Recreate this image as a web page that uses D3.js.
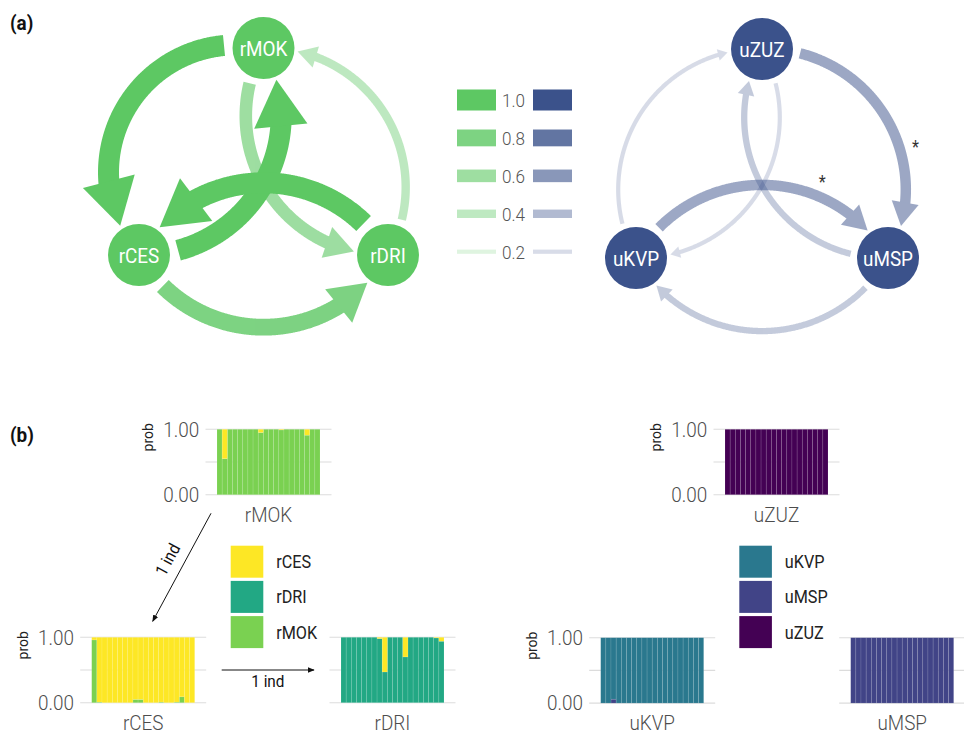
<!DOCTYPE html>
<html>
<head>
<meta charset="utf-8">
<script src="https://cdn.jsdelivr.net/npm/d3@7"></script>
<style>
  body { margin: 0; background: #fff; }
  svg { display: block; }
  text { font-family: "Roboto", "Liberation Sans", sans-serif; }
</style>
</head>
<body>
<svg id="chart" width="964" height="735"></svg>
<script>
// ---------------- data: migration networks ----------------
const redNodes = ["rMOK", "rCES", "rDRI"];
const redEdgeFrom   = ["rMOK", "rCES", "rDRI", "rCES", "rDRI", "rMOK"];
const redEdgeTo     = ["rCES", "rDRI", "rMOK", "rMOK", "rCES", "rDRI"];
const redEdgeWeight = [1.0, 0.8, 0.4, 1.0, 1.0, 0.6];
const redEdgeSignif = [false, false, false, false, false, false];

const ulvNodes = ["uZUZ", "uKVP", "uMSP"];
const ulvEdgeFrom   = ["uZUZ", "uMSP", "uKVP", "uKVP", "uMSP", "uZUZ"];
const ulvEdgeTo     = ["uMSP", "uKVP", "uZUZ", "uMSP", "uZUZ", "uKVP"];
const ulvEdgeWeight = [0.5, 0.3, 0.2, 0.5, 0.3, 0.2];
const ulvEdgeSignif = [true, false, false, true, false, false];

const legendWeights = [1.0, 0.8, 0.6, 0.4, 0.2];

// ---------------- data: assignment probabilities (20 individuals each) ----------------
const redClusters = ["rCES", "rDRI", "rMOK"];
const ulvClusters = ["uKVP", "uMSP", "uZUZ"];

const rMOK_rCES = [0, 0.45, 0, 0, 0, 0, 0, 0, 0.05, 0, 0, 0, 0.01, 0, 0, 0, 0, 0.09, 0, 0];
const rMOK_rDRI = [0, 0, 0, 0, 0, 0, 0, 0, 0, 0, 0, 0, 0, 0, 0, 0, 0, 0, 0, 0];
const rMOK_rMOK = [1, 0.55, 1, 1, 1, 1, 1, 1, 0.95, 1, 1, 1, 0.99, 1, 1, 1, 1, 0.91, 1, 1];

const rCES_rCES = [0.04, 0.99, 1, 1, 1, 1, 1, 1, 0.95, 0.95, 1, 1, 1, 0.99, 1, 1, 0.99, 0.91, 1, 1];
const rCES_rDRI = [0, 0, 0, 0, 0, 0, 0, 0, 0, 0, 0, 0, 0, 0, 0, 0, 0, 0, 0, 0];
const rCES_rMOK = [0.96, 0.01, 0, 0, 0, 0, 0, 0, 0.05, 0.05, 0, 0, 0, 0.01, 0, 0, 0.01, 0.09, 0, 0];

const rDRI_rCES = [0, 0, 0, 0, 0, 0, 0, 0.02, 0.53, 0, 0, 0, 0.30, 0, 0, 0, 0, 0, 0.01, 0.06];
const rDRI_rDRI = [1, 1, 1, 1, 1, 1, 1, 0.98, 0.47, 1, 1, 1, 0.70, 1, 1, 1, 1, 1, 0.99, 0.94];
const rDRI_rMOK = [0, 0, 0, 0, 0, 0, 0, 0, 0, 0, 0, 0, 0, 0, 0, 0, 0, 0, 0, 0];

const uZUZ_uKVP = [0, 0, 0, 0, 0, 0, 0, 0, 0, 0, 0, 0, 0, 0, 0, 0, 0, 0, 0, 0];
const uZUZ_uMSP = [0, 0, 0, 0, 0, 0, 0, 0, 0, 0, 0, 0, 0, 0, 0, 0, 0, 0, 0, 0];
const uZUZ_uZUZ = [1, 1, 1, 1, 1, 1, 1, 1, 1, 1, 1, 1, 1, 1, 1, 1, 1, 1, 1, 1];

const uKVP_uKVP = [1, 1, 0.94, 1, 1, 1, 1, 1, 1, 1, 1, 1, 1, 1, 1, 1, 1, 1, 1, 1];
const uKVP_uMSP = [0, 0, 0.06, 0, 0, 0, 0, 0, 0, 0, 0, 0, 0, 0, 0, 0, 0, 0, 0, 0];
const uKVP_uZUZ = [0, 0, 0, 0, 0, 0, 0, 0, 0, 0, 0, 0, 0, 0, 0, 0, 0, 0, 0, 0];

const uMSP_uKVP = [0, 0, 0, 0, 0, 0, 0, 0, 0, 0, 0, 0, 0, 0, 0, 0, 0, 0, 0, 0];
const uMSP_uMSP = [1, 1, 1, 1, 1, 1, 1, 1, 1, 1, 1, 1, 1, 1, 1, 1, 1, 1, 1, 1];
const uMSP_uZUZ = [0, 0, 0, 0, 0, 0, 0, 0, 0, 0, 0, 0, 0, 0, 0, 0, 0, 0, 0, 0];

const axisTicks = [0, 1];
const gridTicks = [0, 0.5, 1];

// ---------------- styles ----------------
const greenBase = "#5DC863";
const blueBase = "#3B528B";
const clusterColor = d3.scaleOrdinal()
  .domain(["uZUZ", "uMSP", "uKVP", "rDRI", "rMOK", "rCES"])
  .range(["#440154", "#414487", "#2A788E", "#22A884", "#7AD151", "#FDE725"]);
const narrow = 0.9; // horizontal squeeze for a condensed look

const svg = d3.select("#chart");

// text helper: positioned via transform so it can be condensed
function addText(parent, x, y, str, size, fill, anchor, extra, weight) {
  return parent.append("text")
    .attr("transform", `translate(${x},${y}) ${extra || ""} scale(${narrow},1)`)
    .attr("text-anchor", anchor || "start").attr("font-size", size).attr("fill", fill)
    .style("font-weight", weight || 400).text(str);
}

// panel tags
addText(svg, 10, 30, "(a)", 21, "#111", "start", "", 700);
addText(svg, 10, 442, "(b)", 21, "#111", "start", "", 700);

// ---------------- network drawing ----------------
const nodeR = 31;
const widthScale = d3.scaleLinear().domain([0, 1]).range([0, 21]);
// triangle layout in unit coordinates
const triangle = [[0, 0], [-1, 1], [1, 1]];

function arcPoints(S, T, k, n) {
  const dx = T[0] - S[0], dy = T[1] - S[1], c = Math.hypot(dx, dy);
  const ux = dx / c, uy = dy / c, nx = -uy, ny = ux;
  const s = k * c;
  const R = (c * c / 4 + s * s) / (2 * Math.abs(s));
  const mx = (S[0] + T[0]) / 2, my = (S[1] + T[1]) / 2;
  const sg = Math.sign(s);
  const ox = mx + nx * (s - sg * R), oy = my + ny * (s - sg * R);
  const a0 = Math.atan2(S[1] - oy, S[0] - ox), a1 = Math.atan2(T[1] - oy, T[0] - ox);
  let da = a1 - a0;
  while (da > Math.PI) da -= 2 * Math.PI;
  while (da < -Math.PI) da += 2 * Math.PI;
  return { center: [ox, oy], pts: d3.range(n + 1).map(i => {
    const a = a0 + da * i / n;
    return [ox + R * Math.cos(a), oy + R * Math.sin(a)];
  }) };
}
const dist = (p, q) => Math.hypot(p[0] - q[0], p[1] - q[1]);

function drawNetwork(opt) {
  const xs = d3.scaleLinear().domain([-1, 1]).range(opt.xRange);
  const ys = d3.scaleLinear().domain([0, 1]).range(opt.yRange);
  const pos = {};
  opt.nodes.forEach((nm, i) => { pos[nm] = [xs(triangle[i][0]), ys(triangle[i][1])]; });

  const edges = opt.from.map((f, i) => {
    const key = f + ">" + opt.to[i];
    return {
      from: f, to: opt.to[i], w: opt.weight[i], sig: opt.signif[i],
      curve: (opt.curveOverride[key] || opt.curve),
      labelAt: (opt.labelAt[key] || 0.68)
    };
  }).sort((a, b) => a.w - b.w);

  const g = svg.append("g");
  const line = d3.line();
  edges.forEach(e => {
    const S = pos[e.from], T = pos[e.to];
    const sw = widthScale(e.w);
    const headL = 2.1 * sw + 1, headW = 2.5 * sw + 1;
    const arc = arcPoints(S, T, e.curve, 400);
    const pts = arc.pts;
    const gapS = 5 + sw * 0.15, gapT = 4;
    const i0 = pts.findIndex(p => dist(p, S) >= nodeR + gapS);
    const iTip = pts.findIndex((p, i) => i > i0 && dist(p, T) <= nodeR + gapT);
    const iBase = pts.findIndex((p, i) => i > i0 && dist(p, T) <= nodeR + gapT + headL);
    const iJoin = pts.findIndex((p, i) => i > i0 && dist(p, T) <= nodeR + gapT + headL * 0.8);
    const tip = pts[iTip], base = pts[iBase];
    const ddx = tip[0] - base[0], ddy = tip[1] - base[1], dl = Math.hypot(ddx, ddy);
    const px = -ddy / dl, py = ddx / dl;
    const eg = g.append("g").attr("opacity", e.w);
    eg.append("path")
      .attr("d", line(pts.slice(i0, iJoin + 1)))
      .attr("fill", "none").attr("stroke", opt.color).attr("stroke-width", sw);
    eg.append("path")
      .attr("d", line([tip, [base[0] + px * headW / 2, base[1] + py * headW / 2], [base[0] - px * headW / 2, base[1] - py * headW / 2]]) + "Z")
      .attr("fill", opt.color);
    if (e.sig) {
      const p = pts[Math.round(pts.length * e.labelAt)];
      const cx = arc.center[0], cy = arc.center[1];
      const rl = Math.hypot(p[0] - cx, p[1] - cy);
      addText(g, p[0] + (p[0] - cx) / rl * 16, p[1] + (p[1] - cy) / rl * 16 + 7, "*", 18, "#333", "middle");
    }
  });

  const ng = g.selectAll("g.node").data(opt.nodes).join("g").attr("class", "node")
    .attr("transform", d => `translate(${pos[d][0]},${pos[d][1]})`);
  ng.append("circle").attr("r", nodeR).attr("fill", opt.color);
  ng.append("text").attr("text-anchor", "middle").attr("dy", "0.36em")
    .attr("transform", `scale(${narrow},1)`)
    .attr("font-size", 21).attr("fill", "#fff").text(d => d);
}

drawNetwork({
  nodes: redNodes, from: redEdgeFrom, to: redEdgeTo, weight: redEdgeWeight, signif: redEdgeSignif,
  xRange: [139, 388], yRange: [48, 255], color: greenBase, curve: 0.29,
  curveOverride: { "rMOK>rCES": 0.36 }, labelAt: {}
});
drawNetwork({
  nodes: ulvNodes, from: ulvEdgeFrom, to: ulvEdgeTo, weight: ulvEdgeWeight, signif: ulvEdgeSignif,
  xRange: [636, 888], yRange: [49, 258], color: blueBase, curve: -0.29,
  curveOverride: {}, labelAt: { "uZUZ>uMSP": 0.62, "uKVP>uMSP": 0.68 }
});

// edge-weight legend
const legY = d3.scalePoint().domain(legendWeights).range([100, 251.7]);
const leg = svg.append("g");
legendWeights.forEach(v => {
  const h = widthScale(v);
  leg.append("rect").attr("x", 457).attr("y", legY(v) - h / 2).attr("width", 39).attr("height", h)
    .attr("fill", greenBase).attr("opacity", v);
  leg.append("rect").attr("x", 533).attr("y", legY(v) - h / 2).attr("width", 39).attr("height", h)
    .attr("fill", blueBase).attr("opacity", v);
  addText(leg, 502, legY(v) + 6.8, d3.format(".1f")(v), 19, "#555", "start", "", 300);
});

// ---------------- structure bar panels ----------------
const barW = 103, barH = 65.4, gridPad = 11.5;

function drawPanel(label, series, clusters, x0, y0, withAxis) {
  const n = series[0].length;
  const x = d3.scaleBand().domain(d3.range(n)).range([x0, x0 + barW]).padding(0);
  const y = d3.scaleLinear().domain([0, 1]).range([y0 + barH, y0]);
  const g = svg.append("g");

  g.selectAll("line.grid").data(gridTicks).join("line")
    .attr("x1", x0 - gridPad).attr("x2", x0 + barW + gridPad)
    .attr("y1", d => y(d)).attr("y2", d => y(d))
    .attr("stroke", "#dcdcdc").attr("stroke-width", 1.1);

  // stack: last cluster at the bottom
  const rows = d3.range(n).map(i => {
    const o = { i };
    clusters.forEach((c, k) => { o[c] = series[k][i]; });
    return o;
  });
  const stack = d3.stack().keys(clusters.slice().reverse())(rows);
  g.selectAll("g.layer").data(stack).join("g").attr("fill", d => clusterColor(d.key))
    .selectAll("rect").data(d => d.filter(v => v[1] - v[0] > 0)).join("rect")
    .attr("x", d => x(d.data.i)).attr("width", x.bandwidth())
    .attr("y", d => y(d[1])).attr("height", d => y(d[0]) - y(d[1]))
    .attr("stroke", "rgba(255,255,255,0.18)").attr("stroke-width", 0.6);

  if (withAxis) {
    const ax = g.append("g").attr("transform", `translate(${x0 - gridPad},0)`)
      .call(d3.axisLeft(y).tickValues(axisTicks).tickFormat(d3.format(".2f")).tickSize(0).tickPadding(7));
    ax.select(".domain").remove();
    ax.selectAll("text").attr("font-size", 21).attr("fill", "#4d4d4d")
      .attr("font-family", "Roboto, sans-serif").style("font-weight", 300)
      .attr("transform", `scale(${narrow},1)`);
    addText(g, x0 - 64, y0 + 8, "prob", 15.5, "#222", "middle", "rotate(-90)");
  }
  addText(g, x0 + barW / 2, y0 + barH + 27, label, 21, "#4d4d4d", "middle", "", 300);
}

const panelPos = {
  rMOK: [217, 429.3], rCES: [91.7, 637.3], rDRI: [341, 637.3],
  uZUZ: [725, 429.3], uKVP: [600.7, 637.7], uMSP: [850.7, 637.7]
};

drawPanel("rMOK", [rMOK_rCES, rMOK_rDRI, rMOK_rMOK], redClusters, ...panelPos.rMOK, true);
drawPanel("rCES", [rCES_rCES, rCES_rDRI, rCES_rMOK], redClusters, ...panelPos.rCES, true);
drawPanel("rDRI", [rDRI_rCES, rDRI_rDRI, rDRI_rMOK], redClusters, ...panelPos.rDRI, false);
drawPanel("uZUZ", [uZUZ_uKVP, uZUZ_uMSP, uZUZ_uZUZ], ulvClusters, ...panelPos.uZUZ, true);
drawPanel("uKVP", [uKVP_uKVP, uKVP_uMSP, uKVP_uZUZ], ulvClusters, ...panelPos.uKVP, true);
drawPanel("uMSP", [uMSP_uKVP, uMSP_uMSP, uMSP_uZUZ], ulvClusters, ...panelPos.uMSP, false);

// cluster legends
function drawLegend(clusters, x, y) {
  const ly = d3.scaleBand().domain(clusters).range([y, y + 3 * 35.2]).paddingInner(0);
  const g = svg.append("g");
  g.selectAll("rect").data(clusters).join("rect")
    .attr("x", x).attr("y", d => ly(d)).attr("width", 32.6).attr("height", 32)
    .attr("fill", d => clusterColor(d));
  clusters.forEach(c => addText(g, x + 45.5, ly(c) + 22.5, c, 18, "#222"));
}
drawLegend(redClusters, 230.7, 545.7);
drawLegend(ulvClusters, 739.3, 545.7);

// migrant arrows between panels
svg.append("defs").append("marker").attr("id", "ah").attr("viewBox", "0 0 10 10")
  .attr("refX", 9).attr("refY", 5).attr("markerWidth", 7).attr("markerHeight", 7)
  .attr("markerUnits", "userSpaceOnUse").attr("orient", "auto")
  .append("path").attr("d", "M0,1 L10,5 L0,9 Z").attr("fill", "#111");

const pM = panelPos.rMOK, pC = panelPos.rCES, pD = panelPos.rDRI;
const a1 = [[pM[0] - 6, pM[1] + 84], [pC[0] + 61, pC[1] - 16]];
svg.append("line").attr("x1", a1[0][0]).attr("y1", a1[0][1]).attr("x2", a1[1][0]).attr("y2", a1[1][1])
  .attr("stroke", "#111").attr("stroke-width", 1).attr("marker-end", "url(#ah)");
const ang = Math.atan2(a1[0][1] - a1[1][1], a1[0][0] - a1[1][0]) * 180 / Math.PI;
const mid1 = [(a1[0][0] + a1[1][0]) / 2 - 9, (a1[0][1] + a1[1][1]) / 2 - 5];
addText(svg, mid1[0], mid1[1], "1 ind", 17, "#111", "middle", `rotate(${ang})`);

const a2 = [[pC[0] + 130, pC[1] + barH / 2], [pD[0] - 27, pD[1] + barH / 2]];
svg.append("line").attr("x1", a2[0][0]).attr("y1", a2[0][1]).attr("x2", a2[1][0]).attr("y2", a2[1][1])
  .attr("stroke", "#111").attr("stroke-width", 1).attr("marker-end", "url(#ah)");
addText(svg, (a2[0][0] + a2[1][0]) / 2, a2[0][1] + 17, "1 ind", 17, "#111", "middle");
</script>
</body>
</html>
